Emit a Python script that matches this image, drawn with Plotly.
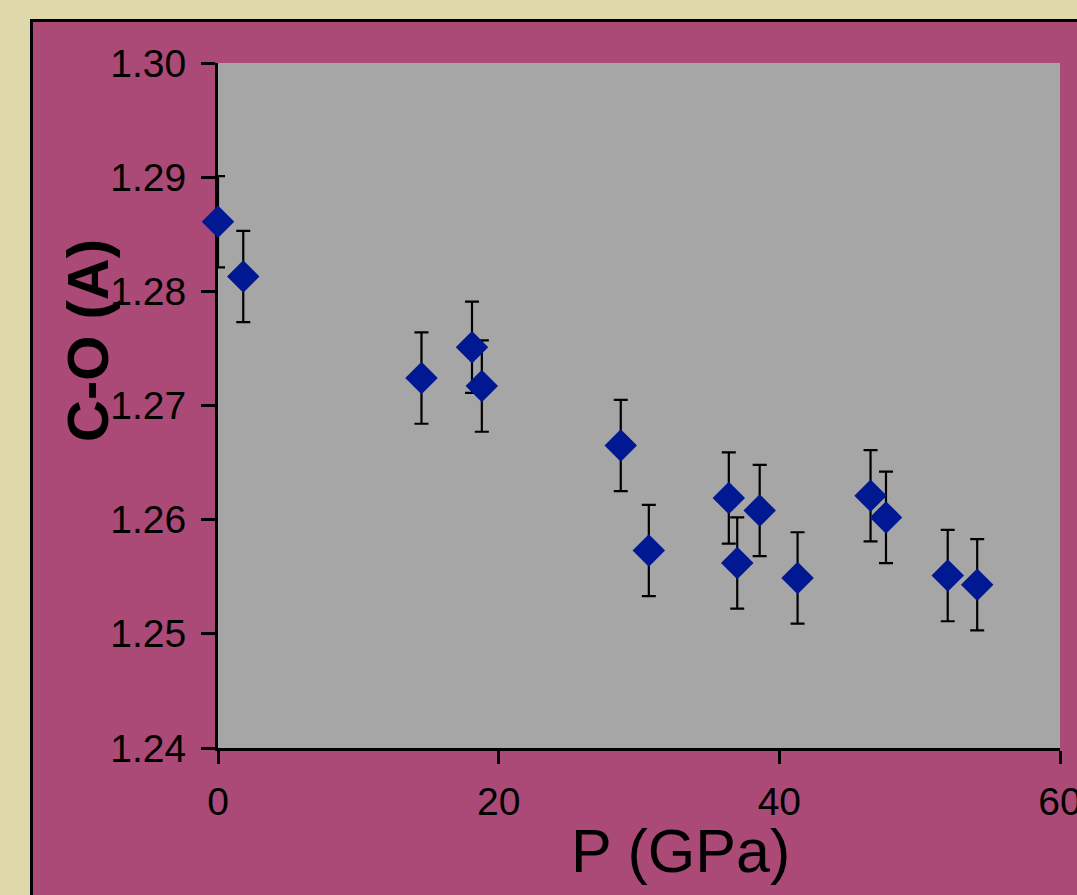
import plotly.graph_objects as go

# Data
pressure_gpa = [0.0, 1.8, 14.5, 18.1, 18.8, 28.7, 30.7, 36.4, 37.0, 38.6, 41.3, 46.5, 47.6, 52.0, 54.1]
co_length = [1.2861, 1.2813, 1.2724, 1.2751, 1.2717, 1.2665, 1.2573, 1.2619, 1.2562, 1.2608, 1.2549, 1.2621, 1.2602, 1.2551, 1.2543]
co_error = [0.004] * 15
x_ticks = [0, 20, 40, 60]
y_ticks = [1.24, 1.25, 1.26, 1.27, 1.28, 1.29, 1.30]

W, H = 1077, 895
L, R, T, B = 218, 17, 63, 147
pw = W - L - R
ph = H - T - B

def px(xp):
    return (xp - L) / pw

def py(yp):
    return (H - B - yp) / ph

FONT = "Liberation Sans, Arial, sans-serif"
BEIGE = "#dfd8aa"
MAGENTA = "#ab4977"
GRAY = "#a6a6a6"
BLUE = "#011893"

fig = go.Figure()
fig.add_trace(go.Scatter(
    x=pressure_gpa, y=co_length, mode="markers",
    marker=dict(symbol="diamond", size=25, color=BLUE, line=dict(width=0)),
    error_y=dict(type="data", array=co_error, visible=True, color="black", thickness=2.2, width=7),
    cliponaxis=False, showlegend=False,
))

fig.update_layout(
    width=W, height=H,
    margin=dict(l=L, r=R, t=T, b=B, pad=0, autoexpand=False),
    paper_bgcolor=BEIGE,
    plot_bgcolor="rgba(0,0,0,0)",
    font=dict(family=FONT, color="black"),
    shapes=[
        dict(type="rect", xref="paper", yref="paper", layer="below",
             x0=px(31.5), x1=px(1100), y0=py(920), y1=py(20.5),
             fillcolor=MAGENTA, line=dict(color="black", width=3)),
        dict(type="rect", xref="paper", yref="paper", layer="below",
             x0=0, x1=1, y0=0, y1=1, fillcolor=GRAY, line=dict(width=0)),
    ],
    annotations=[
        dict(text="<b>C-O (A)</b>", xref="paper", yref="paper",
             x=px(87), y=py(341), xanchor="center", yanchor="middle",
             textangle=-90, showarrow=False, font=dict(size=58, family=FONT, color="black")),
        dict(text="P (GPa)", xref="paper", yref="paper",
             x=px(680.5), y=py(851), xanchor="center", yanchor="middle",
             showarrow=False, font=dict(size=61, family=FONT, color="black")),
    ],
)

fig.update_xaxes(
    range=[0, 60], tickvals=x_ticks, ticktext=[str(v) for v in x_ticks],
    showgrid=False, zeroline=False, showline=True, linecolor="black", linewidth=3,
    ticks="outside", ticklen=13, tickwidth=3, tickcolor="black",
    tickfont=dict(size=39, family=FONT, color="black"),
    ticklabelstandoff=4, ticklabeloverflow="allow", automargin=False,
    layer="below traces", fixedrange=True,
)
fig.update_yaxes(
    range=[1.24, 1.30], tickvals=y_ticks, ticktext=[f"{v:.2f}" for v in y_ticks],
    showgrid=False, zeroline=False, showline=True, linecolor="black", linewidth=3,
    ticks="outside", ticklen=14, tickwidth=3, tickcolor="black",
    tickfont=dict(size=39, family=FONT, color="black"),
    ticklabelstandoff=7, ticklabeloverflow="allow", automargin=False,
    layer="below traces", fixedrange=True,
)

fig.write_html("out.html")
